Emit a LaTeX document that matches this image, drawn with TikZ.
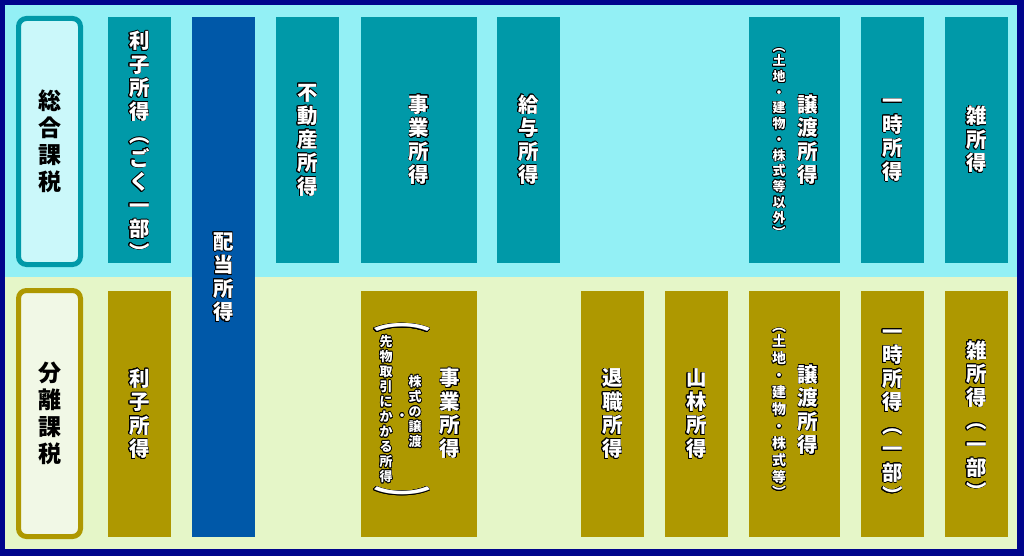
\documentclass[tikz,border=0pt]{standalone}
\usepackage{fontspec}
\setmainfont{Noto Sans CJK JP}
\usepackage[copies]{contour}
\contourlength{0.7pt}
\definecolor{waku}{HTML}{00058C}
\definecolor{sogoband}{HTML}{93F0F5}
\definecolor{bunriband}{HTML}{E5F6C8}
\definecolor{sogocol}{HTML}{0099A8}
\definecolor{bunricol}{HTML}{AE9800}
\definecolor{haitocol}{HTML}{0058A8}
\definecolor{sogolabel}{HTML}{CBF8FA}
\definecolor{bunrilabel}{HTML}{F1F8E6}
\newcommand{\tatestack}[1]{\vbox{\let\\\cr\lineskiplimit=-\maxdimen
  \halign{\hfil##\vphantom{国}\hfil\cr#1\crcr}}}
\newcommand{\tate}[1]{\contour{black}{\tatestack{#1}}}
\newcommand{\tsume}[1]{\noalign{\vskip-#1}}
\tikzset{
  kamoku/.style={minimum width=63pt, minimum height=246pt, inner sep=0pt, text=white,
    font=\bfseries\fontsize{20.5}{23.5}\selectfont},
  sogo/.style={kamoku, fill=sogocol},
  bunri/.style={kamoku, fill=bunricol},
  midashi/.style={text=white, inner sep=0pt, font=\bfseries\fontsize{20.5}{23.5}\selectfont},
  chusyaku/.style={text=white, inner sep=0pt, font=\bfseries\fontsize{13}{15.7}\selectfont},
  kakko/.style={text=white, inner sep=0pt, font=\bfseries\fontsize{58}{58}\selectfont},
  kubun/.style={draw, line width=5pt, rounded corners=8pt, minimum width=62pt,
    minimum height=246pt, inner sep=0pt, font=\bfseries\fontsize{23}{27}\selectfont},
}

\begin{document}
\begin{tikzpicture}[x=1pt,y=-1pt]
  \useasboundingbox (0,0) rectangle (1024,556);
  \fill[waku] (0,0) rectangle (1024,556);
  \fill[sogoband] (5,5) rectangle (1017,277);
  \fill[bunriband] (5,277) rectangle (1017,549);
  % 総合課税
  \node[kubun, draw=sogocol, fill=sogolabel] (sogo) at (49.5,141.5) {\tatestack{総\\合\\課\\税}};
  \node[sogo] (risitop) at (139.5,140) {};
  \node[midashi] (risitopa) at (139.5,147) {\tate{利\\子\\所\\得\\︵\\ご\\く\\一\\部\\︶}};
  \node[sogo] (fudosan) at (307.5,140) {\tate{不\\動\\産\\所\\得}};
  \node[sogo, minimum width=116pt] (jigyotop) at (419,140) {\tate{事\\業\\所\\得}};
  \node[sogo] (kyuyo) at (528.5,140) {\tate{給\\与\\所\\得}};
  \node[sogo, minimum width=91pt] (jototop) at (794.5,140) {};
  \node[midashi] (jototopa) at (808,140) {\tate{譲\\渡\\所\\得}};
  \node[chusyaku] (jototopb) at (779,140)
    {\tate{︵\\\tsume{1.5pt}土\\地\\・\\建\\物\\・\\株\\式\\等\\以\\外\\\tsume{1.5pt}︶}};
  \node[sogo] (ichijitop) at (892.5,140) {};
  \node[midashi] (ichijitopa) at (892.5,137) {\tate{一\\時\\所\\得}};
  \node[sogo] (zatsutop) at (976.5,140) {\tate{雑\\所\\得}};
  % 分離課税
  \node[kubun, draw=bunricol, fill=bunrilabel] (bunri) at (49.5,413.5) {\tatestack{分\\離\\課\\税}};
  \node[bunri] (risibot) at (139.5,414) {\tate{利\\子\\所\\得}};
  \node[bunri, minimum width=116pt] (jigyobot) at (419,414) {};
  \node[midashi] (jigyobota) at (450,413.5) {\tate{事\\業\\所\\得}};
  \node[chusyaku, font=\bfseries\fontsize{13}{15}\selectfont] (jigyobotb) at (415,412) {\tate{株\\式\\の\\譲\\渡}};
  \node[chusyaku, font=\bfseries\fontsize{13}{15}\selectfont] (jigyobotc) at (402,416) {\tate{・}};
  \node[chusyaku, font=\bfseries\fontsize{13}{15}\selectfont] (jigyobotd) at (386,409.5) {\tate{先\\物\\取\\引\\に\\か\\か\\る\\所\\得}};
  \node[kakko] (kakkoa) at (402,328) {\scalebox{1}[0.45]{\contour{black}{︵}}};
  \node[kakko] (kakkob) at (402,498) {\scalebox{1}[0.45]{\contour{black}{︶}}};
  \node[bunri] (taisyoku) at (612.5,414) {\tate{退\\職\\所\\得}};
  \node[bunri] (sanrin) at (696.5,414) {\tate{山\\林\\所\\得}};
  \node[bunri, minimum width=91pt] (jotobot) at (794.5,414) {};
  \node[midashi] (jotobota) at (808,410) {\tate{譲\\渡\\所\\得}};
  \node[chusyaku, font=\bfseries\fontsize{14}{17}\selectfont] (jotobotb) at (779,410)
    {\tate{︵\\\tsume{2pt}土\\地\\・\\建\\物\\・\\株\\式\\等\\\tsume{2pt}︶}};
  \node[bunri] (ichijibot) at (892.5,414) {};
  \node[midashi] (ichijibota) at (892.5,414.5) {\tate{一\\時\\所\\得\\︵\\一\\部\\︶}};
  \node[bunri] (zatsubot) at (976.5,414) {};
  \node[midashi] (zatsubota) at (976.5,421) {\tate{雑\\所\\得\\︵\\一\\部\\︶}};
  % 配当所得
  \node[kamoku, fill=haitocol, minimum height=520pt] (haito) at (223.5,277) {};
  \node[midashi] (haitoa) at (223.5,277.5) {\tate{配\\当\\所\\得}};
\end{tikzpicture}
\end{document}
